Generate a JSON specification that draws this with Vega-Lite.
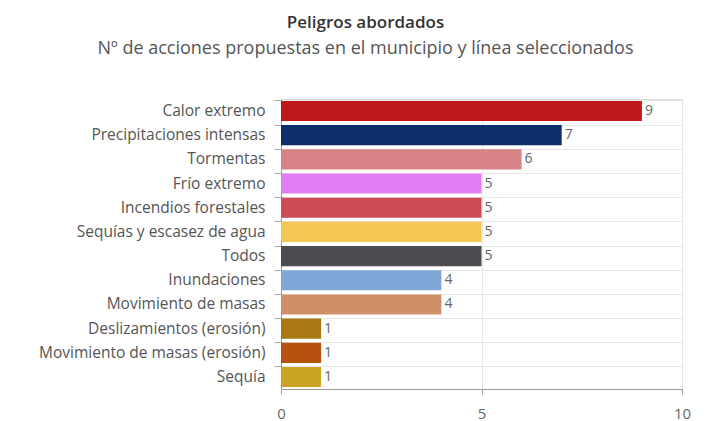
{
  "$schema": "https://vega.github.io/schema/vega-lite/v6.json",
  "autosize": {"type": "none"},
  "width": 401,
  "height": 290,
  "padding": {"left": 281, "top": 99, "right": 32, "bottom": 32},
  "background": "white",
  "title": {
    "text": "Peligros abordados",
    "subtitle": "Nº de acciones propuestas en el municipio y línea seleccionados",
    "anchor": "middle",
    "dx": -116,
    "offset": 40,
    "font": "Open Sans",
    "fontSize": 17,
    "fontWeight": 600,
    "color": "#333333",
    "subtitleFont": "Open Sans",
    "subtitleFontSize": 18,
    "subtitleColor": "#555555",
    "subtitlePadding": 8
  },
  "data": {
    "values": [
      {"peligro": "Calor extremo", "acciones": 9},
      {"peligro": "Precipitaciones intensas", "acciones": 7},
      {"peligro": "Tormentas", "acciones": 6},
      {"peligro": "Frío extremo", "acciones": 5},
      {"peligro": "Incendios forestales", "acciones": 5},
      {"peligro": "Sequías y escasez de agua", "acciones": 5},
      {"peligro": "Todos", "acciones": 5},
      {"peligro": "Inundaciones", "acciones": 4},
      {"peligro": "Movimiento de masas", "acciones": 4},
      {"peligro": "Deslizamientos (erosión)", "acciones": 1},
      {"peligro": "Movimiento de masas (erosión)", "acciones": 1},
      {"peligro": "Sequía", "acciones": 1}
    ]
  },
  "encoding": {
    "y": {
      "field": "peligro",
      "type": "nominal",
      "sort": null,
      "scale": {"paddingInner": 0.17, "paddingOuter": 0.08},
      "axis": {
        "title": null,
        "labelFont": "Open Sans",
        "labelFontSize": 15.5,
        "labelColor": "#555555",
        "labelLimit": 400,
        "labelPadding": 9,
        "tickSize": 7,
        "tickColor": "#aaaaaa",
        "domainColor": "#999999",
        "grid": true,
        "gridColor": "#e6e6e6",
        "bandPosition": 0
      }
    },
    "x": {
      "field": "acciones",
      "type": "quantitative",
      "scale": {"domain": [0, 10], "nice": false},
      "axis": {
        "title": null,
        "values": [0, 5, 10],
        "labelFlush": false,
        "labelFont": "Open Sans",
        "labelFontSize": 15,
        "labelColor": "#666666",
        "labelPadding": 12,
        "tickSize": 5,
        "tickColor": "#999999",
        "domainColor": "#999999",
        "gridColor": "#e6e6e6"
      }
    }
  },
  "layer": [
    {
      "mark": {"type": "bar"},
      "encoding": {
        "color": {
          "field": "peligro",
          "type": "nominal",
          "legend": null,
          "scale": {
            "domain": ["Calor extremo", "Precipitaciones intensas", "Tormentas", "Frío extremo", "Incendios forestales", "Sequías y escasez de agua", "Todos", "Inundaciones", "Movimiento de masas", "Deslizamientos (erosión)", "Movimiento de masas (erosión)", "Sequía"],
            "range": ["#c1191b", "#0c2f6c", "#d88486", "#e27cf2", "#cc4a56", "#f4c752", "#4d4c52", "#7ea7d8", "#cf8f69", "#a97810", "#b7510f", "#c9a424"]
          }
        }
      }
    },
    {
      "mark": {"type": "text", "align": "left", "dx": 3, "font": "Open Sans", "fontSize": 14, "color": "#666666"},
      "encoding": {
        "text": {"field": "acciones", "type": "quantitative"}
      }
    }
  ]
}
